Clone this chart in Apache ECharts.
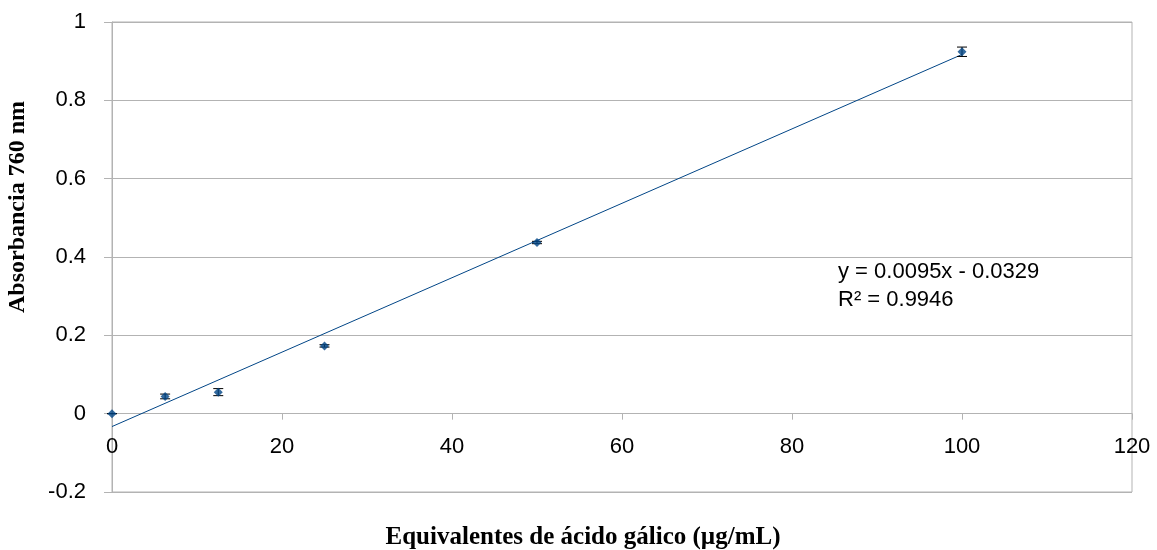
<!DOCTYPE html>
<html>
<head>
<meta charset="utf-8">
<script src="https://cdn.jsdelivr.net/npm/echarts@6/dist/echarts.min.js"></script>
<style>
  html, body { margin: 0; padding: 0; background: #fff; }
  #chart { width: 1157px; height: 550px; }
</style>
</head>
<body>
<div id="chart"></div>
<script>
// datos de la curva de calibración
var concentracion = [0, 6.25, 12.5, 25, 50, 100];
var absorbancia = [0, 0.044, 0.055, 0.173, 0.437, 0.924];
var desviacion = [0, 0.006, 0.009, 0.003, 0.003, 0.012];
var pendiente = 0.0095;
var intercepto = -0.0329;
var ejeX = [0, 120, 20];
var ejeY = [-0.2, 1, 0.2];

(function(){

    var myChart = echarts.init(document.getElementById("chart"));

    var puntos = concentracion.map(function(x, i){ return [x, absorbancia[i]]; });
    var barras = concentracion.map(function(x, i){ return [x, absorbancia[i], desviacion[i]]; });
    var xFin = concentracion[concentracion.length - 1];
    var tendencia = [[0, intercepto], [xFin, pendiente * xFin + intercepto]];

    var gris = '#b3b3b3';
    var azul = '#004586';

    option = {
        animation: false,
        grid: {
            left: 112,
            right: 25,
            top: 22,
            bottom: 58,
            show: true,
            borderColor: gris,
            borderWidth: 1
        },
        xAxis: {
            type: 'value',
            min: ejeX[0],
            max: ejeX[1],
            interval: ejeX[2],
            axisLine: { onZero: true, lineStyle: { color: gris } },
            axisTick: { show: true, length: 6, lineStyle: { color: gris } },
            splitLine: { show: false },
            axisLabel: {
                color: '#000',
                fontFamily: 'Liberation Sans',
                fontSize: 22,
                inside: true,
                margin: 34,
                showMinLabel: true,
                showMaxLabel: true
            }
        },
        yAxis: {
            type: 'value',
            min: ejeY[0],
            max: ejeY[1],
            interval: ejeY[2],
            axisLine: { show: true, lineStyle: { color: gris } },
            axisTick: { show: true, length: 8, lineStyle: { color: gris } },
            splitLine: { show: true, lineStyle: { color: gris } },
            axisLabel: {
                color: '#000',
                fontFamily: 'Liberation Sans',
                fontSize: 22,
                margin: 26,
                formatter: function(v){ return String(Math.round(v * 10) / 10); }
            }
        },
        graphic: [
            {
                type: 'text',
                x: 18,
                y: 207,
                rotation: Math.PI / 2,
                style: {
                    text: 'Absorbancia 760 nm',
                    fontFamily: 'Liberation Serif',
                    fontWeight: 'bold',
                    fontSize: 24,
                    fill: '#000',
                    align: 'center',
                    verticalAlign: 'middle'
                }
            },
            {
                type: 'text',
                x: 583,
                y: 538,
                style: {
                    text: 'Equivalentes de ácido gálico (µg/mL)',
                    fontFamily: 'Liberation Serif',
                    fontWeight: 'bold',
                    fontSize: 25,
                    fill: '#000',
                    align: 'center',
                    verticalAlign: 'middle'
                }
            },
            {
                type: 'text',
                x: 838,
                y: 258,
                style: {
                    text: 'y = 0.0095x - 0.0329\nR² = 0.9946',
                    fontFamily: 'Liberation Sans',
                    fontSize: 22,
                    lineHeight: 28,
                    fill: '#000'
                }
            }
        ],
        series: [
            {
                name: 'tendencia',
                type: 'line',
                data: tendencia,
                showSymbol: false,
                lineStyle: { color: azul, width: 1 },
                z: 2
            },
            {
                name: 'error',
                type: 'custom',
                data: barras,
                z: 3,
                renderItem: function(params, api){
                    var x = api.value(0), y = api.value(1), e = api.value(2);
                    var alto = api.coord([x, y + e]);
                    var bajo = api.coord([x, y - e]);
                    var w = 5;
                    var estilo = { stroke: '#000', lineWidth: 1 };
                    return {
                        type: 'group',
                        children: [
                            { type: 'line', shape: { x1: alto[0], y1: alto[1], x2: bajo[0], y2: bajo[1] }, style: estilo },
                            { type: 'line', shape: { x1: alto[0] - w, y1: alto[1], x2: alto[0] + w, y2: alto[1] }, style: estilo },
                            { type: 'line', shape: { x1: bajo[0] - w, y1: bajo[1], x2: bajo[0] + w, y2: bajo[1] }, style: estilo }
                        ]
                    };
                }
            },
            {
                name: 'absorbancia',
                type: 'scatter',
                data: puntos,
                symbol: 'diamond',
                symbolSize: 9,
                itemStyle: { color: azul },
                z: 4
            }
        ]
    };

    myChart.setOption(option);
})();
</script>
</body>
</html>
